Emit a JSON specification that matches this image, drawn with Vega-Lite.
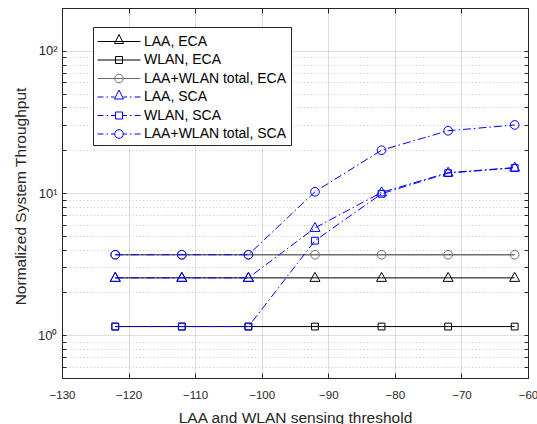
{
  "$schema": "https://vega.github.io/schema/vega-lite/v6.json",
  "width": 466,
  "height": 370,
  "autosize": {"type": "none"},
  "padding": {"left": 62, "top": 8, "right": 9, "bottom": 46},
  "background": "white",
  "config": {
    "view": {"stroke": "#262626", "strokeWidth": 1},
    "font": "Liberation Sans",
    "legend": {"symbolOpacity": 1}
  },
  "data": {
    "values": [
      {"series": "LAA, ECA", "threshold": -122, "throughput": 2.53},
      {"series": "LAA, ECA", "threshold": -112, "throughput": 2.53},
      {"series": "LAA, ECA", "threshold": -102, "throughput": 2.53},
      {"series": "LAA, ECA", "threshold": -92, "throughput": 2.53},
      {"series": "LAA, ECA", "threshold": -82, "throughput": 2.53},
      {"series": "LAA, ECA", "threshold": -72, "throughput": 2.53},
      {"series": "LAA, ECA", "threshold": -62, "throughput": 2.53},
      {"series": "WLAN, ECA", "threshold": -122, "throughput": 1.15},
      {"series": "WLAN, ECA", "threshold": -112, "throughput": 1.15},
      {"series": "WLAN, ECA", "threshold": -102, "throughput": 1.15},
      {"series": "WLAN, ECA", "threshold": -92, "throughput": 1.15},
      {"series": "WLAN, ECA", "threshold": -82, "throughput": 1.15},
      {"series": "WLAN, ECA", "threshold": -72, "throughput": 1.15},
      {"series": "WLAN, ECA", "threshold": -62, "throughput": 1.15},
      {"series": "LAA+WLAN total, ECA", "threshold": -122, "throughput": 3.68},
      {"series": "LAA+WLAN total, ECA", "threshold": -112, "throughput": 3.68},
      {"series": "LAA+WLAN total, ECA", "threshold": -102, "throughput": 3.68},
      {"series": "LAA+WLAN total, ECA", "threshold": -92, "throughput": 3.68},
      {"series": "LAA+WLAN total, ECA", "threshold": -82, "throughput": 3.68},
      {"series": "LAA+WLAN total, ECA", "threshold": -72, "throughput": 3.68},
      {"series": "LAA+WLAN total, ECA", "threshold": -62, "throughput": 3.68},
      {"series": "LAA, SCA", "threshold": -122, "throughput": 2.53},
      {"series": "LAA, SCA", "threshold": -112, "throughput": 2.53},
      {"series": "LAA, SCA", "threshold": -102, "throughput": 2.53},
      {"series": "LAA, SCA", "threshold": -92, "throughput": 5.68},
      {"series": "LAA, SCA", "threshold": -82, "throughput": 10.1},
      {"series": "LAA, SCA", "threshold": -72, "throughput": 13.9},
      {"series": "LAA, SCA", "threshold": -62, "throughput": 15.1},
      {"series": "WLAN, SCA", "threshold": -122, "throughput": 1.15},
      {"series": "WLAN, SCA", "threshold": -112, "throughput": 1.15},
      {"series": "WLAN, SCA", "threshold": -102, "throughput": 1.15},
      {"series": "WLAN, SCA", "threshold": -92, "throughput": 4.62},
      {"series": "WLAN, SCA", "threshold": -82, "throughput": 9.87},
      {"series": "WLAN, SCA", "threshold": -72, "throughput": 13.8},
      {"series": "WLAN, SCA", "threshold": -62, "throughput": 15.0},
      {"series": "LAA+WLAN total, SCA", "threshold": -122, "throughput": 3.68},
      {"series": "LAA+WLAN total, SCA", "threshold": -112, "throughput": 3.68},
      {"series": "LAA+WLAN total, SCA", "threshold": -102, "throughput": 3.68},
      {"series": "LAA+WLAN total, SCA", "threshold": -92, "throughput": 10.2},
      {"series": "LAA+WLAN total, SCA", "threshold": -82, "throughput": 20.0},
      {"series": "LAA+WLAN total, SCA", "threshold": -72, "throughput": 27.4},
      {"series": "LAA+WLAN total, SCA", "threshold": -62, "throughput": 30.1}
    ]
  },
  "encoding": {
    "x": {
      "field": "threshold", "type": "quantitative",
      "scale": {"domain": [-130, -60], "nice": false, "zero": false},
      "axis": null
    },
    "y": {
      "field": "throughput", "type": "quantitative",
      "scale": {"type": "log", "domain": [0.5, 200], "nice": false},
      "axis": null
    },
    "color": {
      "field": "series", "type": "nominal",
      "scale": {
        "domain": ["LAA, ECA", "WLAN, ECA", "LAA+WLAN total, ECA", "LAA, SCA", "WLAN, SCA", "LAA+WLAN total, SCA"],
        "range": ["#000000", "#000000", "#6e6e6e", "#0000ff", "#0000ff", "#0000ff"]
      },
      "legend": {
        "title": null,
        "orient": "none", "legendX": 31, "legendY": 19,
        "strokeColor": "#262626", "fillColor": "white", "padding": 4,
        "symbolSize": 400, "symbolStrokeWidth": 1, "symbolOpacity": 1,
        "symbolFillColor": "transparent",
        "labelFontSize": 14, "labelColor": "#000000", "labelOffset": 26,
        "rowPadding": 0.5, "labelLimit": 400
      }
    }
  },
  "layer": [
    {
      "transform": [{"filter": {"field": "series", "oneOf": ["LAA, ECA", "WLAN, ECA"]}}],
      "mark": {"type": "line", "clip": true, "strokeWidth": 1},
      "encoding": {
        "x": {
          "field": "threshold", "type": "quantitative",
          "scale": {"domain": [-130, -60], "nice": false, "zero": false},
          "axis": {
            "orient": "bottom",
            "values": [-130, -120, -110, -100, -90, -80, -70, -60],
            "grid": true, "gridColor": "#262626", "gridOpacity": 0.15,
            "domain": false,
            "tickSize": -5, "tickColor": "#262626",
            "labelFontSize": 11.5, "labelColor": "#262626",
            "labelBaseline": "alphabetic", "labelPadding": 25.8,
            "labelFlush": false, "labelOverlap": false,
            "title": "LAA and WLAN sensing threshold",
            "titleFontSize": 15.5, "titleFontWeight": "normal", "titleColor": "#262626",
            "titleX": 233, "titleY": 44, "titleBaseline": "alphabetic", "titleAlign": "center"
          }
        },
        "y": {
          "field": "throughput", "type": "quantitative",
          "scale": {"type": "log", "domain": [0.5, 200], "nice": false},
          "axis": {
            "orient": "left",
            "values": [0.5, 0.6, 0.7, 0.8, 0.9, 1, 2, 3, 4, 5, 6, 7, 8, 9, 10, 20, 30, 40, 50, 60, 70, 80, 90, 100, 200],
            "grid": true, "gridColor": "#262626",
            "gridOpacity": {"condition": {"test": "datum.value == 1 || datum.value == 10 || datum.value == 100", "value": 0.15}, "value": 0.25},
            "gridDash": {"condition": {"test": "datum.value == 1 || datum.value == 10 || datum.value == 100", "value": [1, 0]}, "value": [1, 2.5]},
            "domain": false,
            "tickSize": -4, "tickColor": "#262626",
            "labelExpr": "datum.value == 1 ? '10\u2070' : datum.value == 10 ? '10\u00b9' : datum.value == 100 ? '10\u00b2' : ''",
            "labelFontSize": 13, "labelColor": "#262626", "labelPadding": 9,
            "labelBaseline": "middle", "labelFlush": false, "labelOverlap": false,
            "title": "Normalized System Throughput",
            "titleFontSize": 15.5, "titleFontWeight": "normal", "titleColor": "#262626",
            "titleX": -37, "titleY": 188, "titleAngle": -90, "titleBaseline": "alphabetic", "titleAlign": "center"
          }
        }
      }
    },
    {
      "transform": [{"filter": {"field": "series", "oneOf": ["LAA+WLAN total, ECA"]}}],
      "mark": {"type": "line", "clip": true, "strokeWidth": 1.6}
    },
    {
      "transform": [{"filter": {"field": "series", "oneOf": ["LAA, SCA", "WLAN, SCA", "LAA+WLAN total, SCA"]}}],
      "mark": {"type": "line", "clip": true, "strokeWidth": 1, "strokeDash": [8, 3, 1.5, 3]}
    },
    {
      "transform": [{"filter": {"field": "series", "oneOf": ["LAA, ECA", "LAA, SCA"]}}],
      "mark": {"type": "point", "filled": false, "size": 100, "strokeWidth": 1, "opacity": 1, "shape": "M0,-1.1L1,0.7L-1,0.7Z"},
      "encoding": {
        "x": {
          "field": "threshold", "type": "quantitative",
          "axis": {
            "orient": "top",
            "values": [-130, -120, -110, -100, -90, -80, -70, -60],
            "grid": false, "domain": false, "labels": false,
            "tickSize": -5, "tickColor": "#262626", "title": null
          }
        },
        "y": {
          "field": "throughput", "type": "quantitative",
          "axis": {
            "orient": "right",
            "values": [0.5, 0.6, 0.7, 0.8, 0.9, 1, 2, 3, 4, 5, 6, 7, 8, 9, 10, 20, 30, 40, 50, 60, 70, 80, 90, 100, 200],
            "grid": false, "domain": false, "labels": false,
            "tickSize": -4, "tickColor": "#262626", "title": null
          }
        }
      }
    },
    {
      "transform": [{"filter": {"field": "series", "oneOf": ["WLAN, ECA", "WLAN, SCA"]}}],
      "mark": {"type": "point", "filled": false, "size": 100, "strokeWidth": 1, "opacity": 1, "shape": "M-0.68,-0.68H0.68V0.68H-0.68Z"}
    },
    {
      "transform": [{"filter": {"field": "series", "oneOf": ["LAA+WLAN total, ECA", "LAA+WLAN total, SCA"]}}],
      "mark": {"type": "point", "filled": false, "size": 100, "strokeWidth": 1, "opacity": 1, "shape": "M0.87,0A0.87,0.87,0,1,1,-0.87,0A0.87,0.87,0,1,1,0.87,0Z"}
    },
    {
      "mark": {"type": "point", "filled": false, "opacity": 0, "size": 10},
      "encoding": {
        "shape": {
          "field": "series", "type": "nominal",
          "scale": {
            "domain": ["LAA, ECA", "WLAN, ECA", "LAA+WLAN total, ECA", "LAA, SCA", "WLAN, SCA", "LAA+WLAN total, SCA"],
            "range": [
              "M-1,0H3.3M1.15,-0.7L1.6,0.2L0.7,0.2Z",
              "M-1,0H3.3M0.8,-0.35H1.5V0.35H0.8Z",
              "M-1,0H3.3M1.58,0A0.43,0.43,0,1,1,0.72,0A0.43,0.43,0,1,1,1.58,0Z",
              "M-1,0H-0.4M-0.1,0H0.05M0.35,0H0.7M1.6,0H1.95M2.25,0H2.4M2.7,0H3.3M1.15,-0.7L1.6,0.2L0.7,0.2Z",
              "M-1,0H-0.4M-0.1,0H0.05M0.35,0H0.8M1.5,0H1.95M2.25,0H2.4M2.7,0H3.3M0.8,-0.35H1.5V0.35H0.8Z",
              "M-1,0H-0.4M-0.1,0H0.05M0.35,0H0.72M1.58,0H1.95M2.25,0H2.4M2.7,0H3.3M1.58,0A0.43,0.43,0,1,1,0.72,0A0.43,0.43,0,1,1,1.58,0Z"
            ]
          },
          "legend": {
            "title": null,
            "orient": "none", "legendX": 31, "legendY": 19,
            "strokeColor": "#262626", "fillColor": "white", "padding": 4,
            "symbolSize": 400, "symbolStrokeWidth": 1, "symbolOpacity": 1,
            "symbolFillColor": "transparent",
            "labelFontSize": 14, "labelColor": "#000000", "labelOffset": 26,
            "rowPadding": 0.5, "labelLimit": 400
          }
        }
      }
    }
  ],
  "resolve": {"axis": {"x": "independent", "y": "independent"}}
}
